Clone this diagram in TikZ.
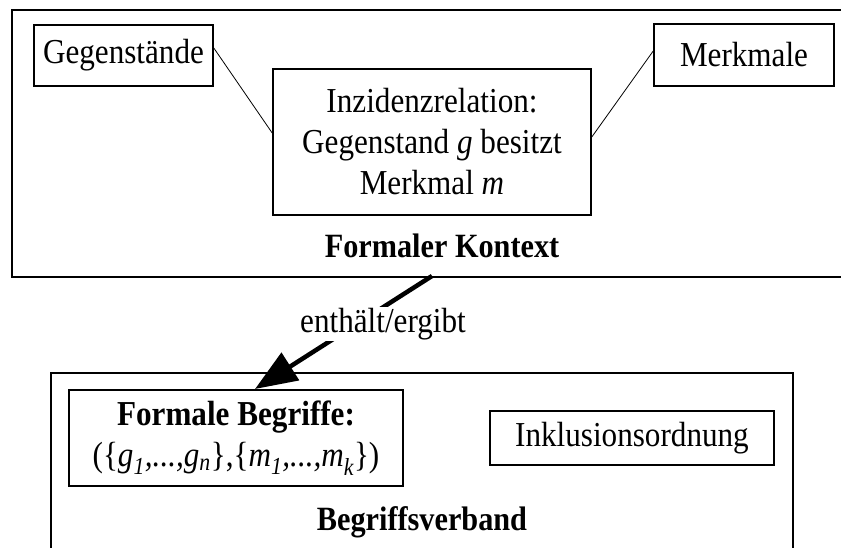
\documentclass[tikz,border=0pt]{standalone}
\usepackage{fontspec}
\setmainfont{Liberation Serif}[FakeStretch=0.89]
\usetikzlibrary{arrows.meta}
\begin{document}
\begin{tikzpicture}[x=1pt,y=-1pt,
  txt/.style={font=\fontsize{35}{41}\selectfont},
  frame/.style={draw,line width=2pt,inner sep=0pt,anchor=north west},
  box/.style={txt,draw,line width=1.6pt,inner sep=0pt,align=center},
  title/.style={font=\fontsize{34}{41}\selectfont\bfseries,inner sep=0pt},
  link/.style={line width=0.8pt},
  bigarrow/.style={line width=4.5pt,-{Triangle[length=42pt,width=32pt]}},
]
\useasboundingbox (0,0) rectangle (841,548);
\clip (0,0) rectangle (841,548);

% formal context
\node[frame,minimum width=850pt,minimum height=267pt] (kontext) at (11,9) {};
\node[box,minimum width=179pt,minimum height=61pt] (gegen) at (123.5,55.5) {Gegenstände};
\node[box,minimum width=180pt,minimum height=62pt] (merk) at (744,55) {Merkmale};
\node[box,minimum width=318pt,minimum height=146pt] (inz) at (432,142)
  {Inzidenzrelation:\\Gegenstand \textit{g} besitzt\\Merkmal \textit{m}};
\node[title] (fk) at (442,246) {Formaler Kontext};
\draw[link] ([yshift=7.5pt]gegen.east) -- ([yshift=9pt]inz.west);
\draw[link] ([yshift=4pt]merk.west) -- ([yshift=5pt]inz.east);

% concept lattice
\node[frame,minimum width=742pt,minimum height=200pt] (verband) at (50,372) {};
\node[box,minimum width=334pt,minimum height=96pt] (begr) at (236,438)
  {\textbf{Formale Begriffe:}\\
   (\{\textit{g\textsubscript{1},...,g\textsubscript{n}}\},\{\textit{m\textsubscript{1},...,m\textsubscript{k}}\})};
\node[box,minimum width=284pt,minimum height=54pt] (inkl) at (632,438) {Inklusionsordnung};
\node[title] (bv) at (422,522) {Begriffsverband};

% connector between the two parts
\coordinate (von) at (432,276);
\coordinate (nach) at (255,389);
\draw[bigarrow] (von) -- (nach);
\node[txt,fill=white,inner sep=1pt] (lbl) at (383,324) {enthält/ergibt};
\end{tikzpicture}
\end{document}
